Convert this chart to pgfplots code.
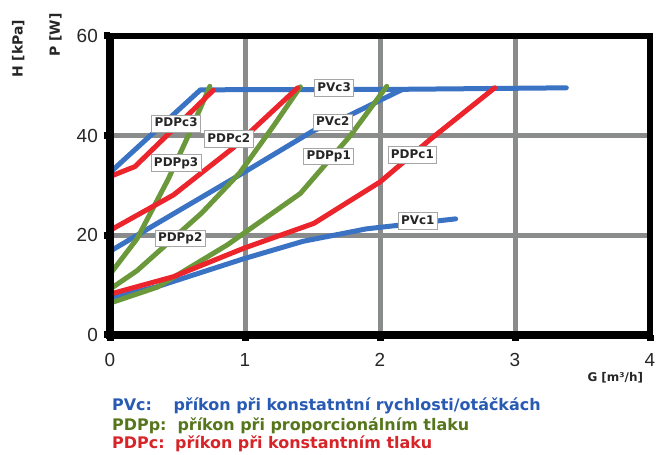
\documentclass[border=0pt]{standalone}
\usepackage{pgfplots}
\pgfplotsset{compat=1.18}
\usepackage{fontspec}
\setmainfont{DejaVu Sans}
\newfontfamily\arialfont{Liberation Sans}
\definecolor{cblue}{RGB}{58,114,196}
\definecolor{cgreen}{RGB}{106,152,58}
\definecolor{cred}{RGB}{236,36,44}
\definecolor{tblue}{RGB}{40,90,180}
\definecolor{tgreen}{RGB}{86,118,28}
\definecolor{tred}{RGB}{214,36,40}
\definecolor{gridgray}{RGB}{138,140,140}
\tikzset{lbl/.style={draw=gray!70, fill=white, line width=0.8bp,
  font=\fontsize{12}{12}\selectfont\bfseries, text=black!85,
  inner xsep=3bp, inner ysep=2.5bp, text height=9bp, text depth=2.5bp}}
\begin{document}
\begin{tikzpicture}[x=1bp,y=1bp]
\begin{axis}[
  at={(0,0)}, anchor=south west,
  scale only axis, width=540bp, height=299bp,
  xmin=0, xmax=4, ymin=0, ymax=60,
  xtick={0,1,2,3,4}, ytick={0,20,40,60},
  grid=major, major grid style={gridgray, line width=5bp},
  axis line style={black, line width=5.5bp},
  tick align=outside, xtick pos=bottom, ytick pos=left,
  major tick length=6bp, tick style={black, line width=7bp},
  clip=false,
  /pgf/number format/assume math mode=true,
  ticklabel style={font=\fontsize{19}{19}\selectfont\arialfont, text=black!85},
  yticklabel style={anchor=east, inner sep=0pt, xshift=-6bp},
  xticklabel style={anchor=north, inner sep=0pt, yshift=-12bp},
  every axis plot/.append style={line width=5bp, line join=round, line cap=round, mark=none},
]
% PVc (blue)
\addplot[cblue] coordinates {(0,32.6) (0.67,49.2) (2.16,49.3) (3.38,49.6)};
\addplot[cblue] coordinates {(0,16.8) (0.5,24.8) (0.99,32.6) (1.5,40.9) (1.76,43.9) (2.16,49.2)};
\addplot[cblue] coordinates {(0,7.4) (0.35,9.7) (0.99,15.3) (1.43,18.8) (1.9,21.3) (2.56,23.3)};
% PDPp (green)
\addplot[cgreen] coordinates {(0,12.2) (0.2,19.3) (0.43,31.2) (0.58,40) (0.74,49.9)};
\addplot[cgreen] coordinates {(0,9.2) (0.2,12.9) (0.68,24.5) (0.96,32.5) (1.21,41.9) (1.41,49.8)};
\addplot[cgreen] coordinates {(0,6.4) (0.35,9.6) (0.87,18.1) (1.41,28.4) (1.78,40) (2.05,49.9)};
% PDPc (red)
\addplot[cred] coordinates {(0,31.8) (0.185,33.8) (0.765,49.1)};
\addplot[cred] coordinates {(0,21.0) (0.47,28.1) (0.91,37.5) (1.39,49.6)};
\addplot[cred] coordinates {(0,8.2) (0.47,11.7) (0.99,17.4) (1.51,22.4) (2.0,30.7) (2.37,39.2) (2.85,49.6)};
% thicker left and bottom axis lines
\draw[black, line width=7.5bp] (rel axis cs:0,1) -- (rel axis cs:0,0) -- (rel axis cs:1,0);
% curve labels
\node[lbl] at (axis cs:1.66,49.6) {PVc3};
\node[lbl] at (axis cs:1.65,42.7) {PVc2};
\node[lbl] at (axis cs:2.28,22.9) {PVc1};
\node[lbl] at (axis cs:0.49,42.4) {PDPc3};
\node[lbl] at (axis cs:0.88,39.3) {PDPc2};
\node[lbl] at (axis cs:2.24,36.1) {PDPc1};
\node[lbl] at (axis cs:0.49,34.5) {PDPp3};
\node[lbl] at (axis cs:0.52,19.4) {PDPp2};
\node[lbl] at (axis cs:1.62,35.8) {PDPp1};
\end{axis}
% axis titles
\node[rotate=90, anchor=base west, inner sep=0pt, font=\fontsize{14}{14}\selectfont\bfseries, text=black!85] at (-87.3,257) {H [kPa]};
\node[rotate=90, anchor=base west, inner sep=0pt, font=\fontsize{14}{14}\selectfont\bfseries, text=black!85] at (-50,278.3) {P [W]};
\node[anchor=base west, inner sep=0pt, font=\fontsize{12}{12}\selectfont\bfseries, text=black!85] at (477.3,-46.7) {G [m³/h]};
% explanation lines
\begin{scope}[every node/.style={anchor=base west, inner sep=0pt, font=\fontsize{16}{16}\selectfont\bfseries}]
\node[text=tblue] at (2,-76) {PVc:};
\node[text=tblue] at (63.3,-76) {příkon při konstatntní rychlosti/otáčkách};
\node[text=tgreen] at (2,-95.5) {PDPp:};
\node[text=tgreen] at (67.3,-95.5) {příkon při proporcionálním tlaku};
\node[text=tred] at (2,-114) {PDPc:};
\node[text=tred] at (65,-114) {příkon při konstantním tlaku};
\end{scope}
\pgfresetboundingbox
\path[use as bounding box] (-110,-120) rectangle (554,335);
\end{tikzpicture}
\end{document}
